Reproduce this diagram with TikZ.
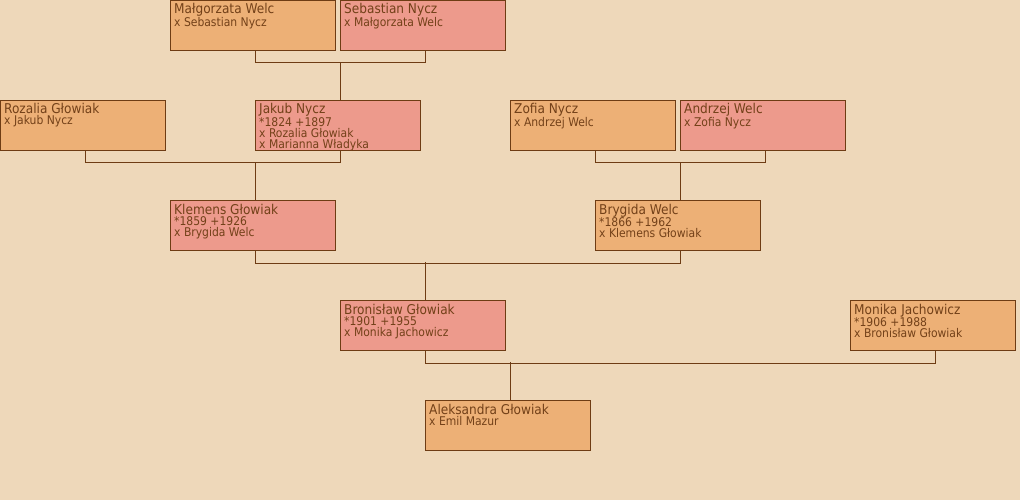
\documentclass[tikz,border=0pt]{standalone}
\usepackage{fontspec}
\setmainfont{DejaVu Sans Condensed}
\definecolor{bg}{RGB}{238,216,186}
\definecolor{fem}{RGB}{237,176,118}
\definecolor{mal}{RGB}{237,154,140}
\definecolor{edge}{RGB}{110,60,20}
\definecolor{ink}{RGB}{115,65,25}
\tikzset{
  pbox/.style={draw=edge, line width=1pt, minimum width=165pt, minimum height=50pt, inner sep=0pt, anchor=north west},
  ptext/.style={text=ink, anchor=base west, inner sep=0pt},
  conn/.style={draw=edge, line width=1pt}
}
\newcommand\nm[1]{{\fontsize{13.5}{11}\selectfont #1}}
\newcommand\person[5]{%
  \node[pbox, fill=#4] (#1) at (#2,#3) {};
  \node[ptext] (#1-t) at ([shift={(4pt,-14pt)}]#1.north west)
    {\parbox[t]{160pt}{\raggedright\fontsize{12}{11}\selectfont #5}};
}
\begin{document}
\begin{tikzpicture}[x=1pt,y=-1pt]
\fill[bg] (0,0) rectangle (1020,500);
\useasboundingbox (0,0) rectangle (1020,500);
\person{mw}{170}{0}{fem}{\nm{Małgorzata Welc}\\x Sebastian Nycz}
\person{sn}{340}{0}{mal}{\nm{Sebastian Nycz}\\x Małgorzata Welc}
\person{rg}{0}{100}{fem}{\nm{Rozalia Głowiak}\\x Jakub Nycz}
\person{jn}{255}{100}{mal}{\nm{Jakub Nycz}\\{}*1824 +1897\\x Rozalia Głowiak\\x Marianna Władyka}
\person{zn}{510}{100}{fem}{\nm{Zofia Nycz}\\x Andrzej Welc}
\person{aw}{680}{100}{mal}{\nm{Andrzej Welc}\\x Zofia Nycz}
\person{kg}{170}{200}{mal}{\nm{Klemens Głowiak}\\{}*1859 +1926\\x Brygida Welc}
\person{bw}{595}{200}{fem}{\nm{Brygida Welc}\\{}*1866 +1962\\x Klemens Głowiak}
\person{bg}{340}{300}{mal}{\nm{Bronisław Głowiak}\\{}*1901 +1955\\x Monika Jachowicz}
\person{mj}{850}{300}{fem}{\nm{Monika Jachowicz}\\{}*1906 +1988\\x Bronisław Głowiak}
\person{ag}{425}{400}{fem}{\nm{Aleksandra Głowiak}\\x Emil Mazur}
% couples
\draw[conn] ([xshift=2.5pt]mw.south) -- ++(0,12) -| ([xshift=2.5pt]sn.south);
\draw[conn] ([xshift=2.5pt]jn.north) -- ++(0,-38);
\draw[conn] ([xshift=2.5pt]rg.south) -- ++(0,12) -| ([xshift=2.5pt]jn.south);
\draw[conn] ([xshift=2.5pt]kg.north) -- ++(0,-38);
\draw[conn] ([xshift=2.5pt]zn.south) -- ++(0,12) -| ([xshift=2.5pt]aw.south);
\draw[conn] ([xshift=2.5pt]bw.north) -- ++(0,-38);
\draw[conn] ([xshift=2.5pt]kg.south) -- ++(0,12) -| ([xshift=2.5pt]bw.south);
\draw[conn] ([xshift=2.5pt]bg.north) -- ++(0,-38);
\draw[conn] ([xshift=2.5pt]bg.south) -- ++(0,12) -| ([xshift=2.5pt]mj.south);
\draw[conn] ([xshift=2.5pt]ag.north) -- ++(0,-38);
\end{tikzpicture}
\end{document}
